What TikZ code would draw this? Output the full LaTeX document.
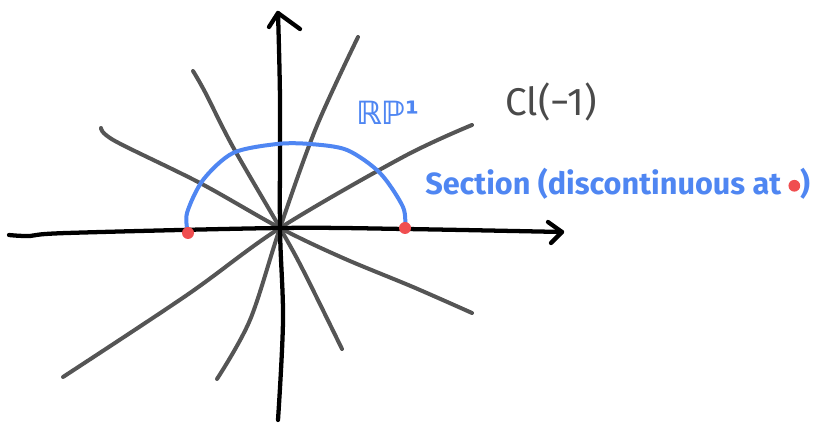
\documentclass[tikz,border=0pt]{standalone}
\usepackage{fontspec}
\setmainfont{Fira Sans}
\newfontfamily\dejavu{DejaVu Sans}
\usetikzlibrary{calc}
\definecolor{linegray}{HTML}{555555}
\definecolor{sketchblue}{HTML}{4F86F2}
\definecolor{dotred}{HTML}{F04E50}
\definecolor{textgray}{HTML}{4A4A4A}
\tikzset{
  axisline/.style={draw=black, line width=3.2pt, line cap=round, line join=round},
  rayline/.style={draw=linegray, line width=3pt, line cap=round, line join=round},
  sectionarc/.style={draw=sketchblue, line width=3pt, line cap=round},
  reddot/.style={fill=dotred},
  bluelabel/.style={text=sketchblue, inner sep=0pt, font=\fontsize{23}{26}\selectfont\bfseries},
  graylabel/.style={text=textgray, inner sep=0pt, font=\fontsize{29}{32}\selectfont},
}
\begin{document}
\begin{tikzpicture}[x=0.75pt,y=-0.75pt]
\useasboundingbox (0,0) rectangle (821,423);
\coordinate (O) at (280,228);
% rays through the origin
\draw[rayline] plot[smooth, tension=0.55] coordinates {(358,37) (316,128) (O) (250,320) (217,379)};
\draw[rayline] plot[smooth, tension=0.55] coordinates {(193,71) (205,92) (233,147) (O) (303,270) (342,349)};
\draw[rayline] plot[smooth, tension=0.55] coordinates {(101,128) (115,141) (200,183) (O) (343,258) (413,287) (472,313)};
\draw[rayline] plot[smooth, tension=0.55] coordinates {(472,125) (403,157) (O) (187,295) (63,377)};
% axes
\draw[axisline] plot[smooth, tension=0.55] coordinates {(9,235) (30,236) (67,233) (O) (405,229) (562,232)};
\draw[axisline] (548,222) -- (562,232) -- (551,243);
\draw[axisline] plot[smooth, tension=0.55] coordinates {(278,420) (283,320) (O) (280,100) (278,13)};
\draw[axisline] (269,27) -- (278,13) -- (300,29);
% section
\coordinate (L) at (188,233);
\coordinate (R) at (405,228);
\draw[sectionarc] plot[smooth] coordinates {(L) (187,213) (203,180) (233,153) (277,144) (310,144) (347,150) (380,173) (403,207) (R)};
\fill[reddot] (L) circle (6);
\fill[reddot] (R) circle (6);
% labels
\node[text=sketchblue, inner sep=0pt, font=\dejavu\bfseries\fontsize{24}{28}\selectfont] (rp) at (388,113) {ℝℙ¹};
\node[graylabel] (cl) at (551,102) {Cl(−1)};
\node[bluelabel, anchor=west] (sec) at (425,184) {Section (discontinuous at \tikz[baseline=-0.55ex]\fill[dotred] (0,0) circle (4.4pt);)};
\end{tikzpicture}
\end{document}
